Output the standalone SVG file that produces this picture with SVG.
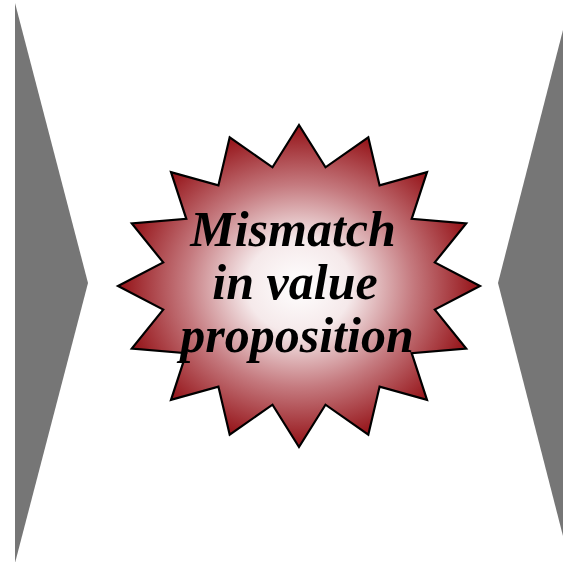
<svg xmlns="http://www.w3.org/2000/svg" width="563" height="562" viewBox="0 0 563 562">
<defs>
<radialGradient id="burst" cx="299" cy="286" r="175" gradientUnits="userSpaceOnUse" gradientTransform="translate(299 286) scale(1 0.89) translate(-299 -286)">
<stop offset="0" stop-color="#ffffff"/>
<stop offset="0.3" stop-color="#f5e9ea"/>
<stop offset="0.65" stop-color="#c57a7f"/>
<stop offset="1" stop-color="#981a1f"/>
</radialGradient>
<style>
.arrow{fill:#767676;stroke:none}
.star{fill:url(#burst);stroke:#000;stroke-width:2.2;stroke-linejoin:miter}
.lbl{font-family:"Liberation Serif","Times New Roman",serif;font-weight:bold;font-style:italic;font-size:50px;fill:#000;text-anchor:middle}
</style>
</defs>
<g id="left-arrow"><polygon class="arrow" points="15,3 88,283 15,563"/></g>
<g id="right-arrow"><polygon class="arrow" points="563,30 498,283 563,536"/></g>
<g id="burst-node">
<polygon class="star" points="299.0,125.0 325.5,167.3 368.3,137.3 379.6,185.4 427.0,172.2 411.7,218.8 466.2,223.4 434.8,262.4 480.0,286.0 434.8,309.6 466.2,348.6 411.7,353.2 427.0,399.8 379.6,386.6 368.3,434.7 325.5,404.7 299.0,447.0 272.5,404.7 229.7,434.7 218.4,386.6 171.0,399.8 186.3,353.2 131.8,348.6 163.2,309.6 118.0,286.0 163.2,262.4 131.8,223.4 186.3,218.8 171.0,172.2 218.4,185.4 229.7,137.3 272.5,167.3"/>
<text class="lbl" x="293" y="246">Mismatch</text>
<text class="lbl" x="295" y="299">in value</text>
<text class="lbl" x="297" y="352">proposition</text>
</g>
<g id="connectors"/>
</svg>
